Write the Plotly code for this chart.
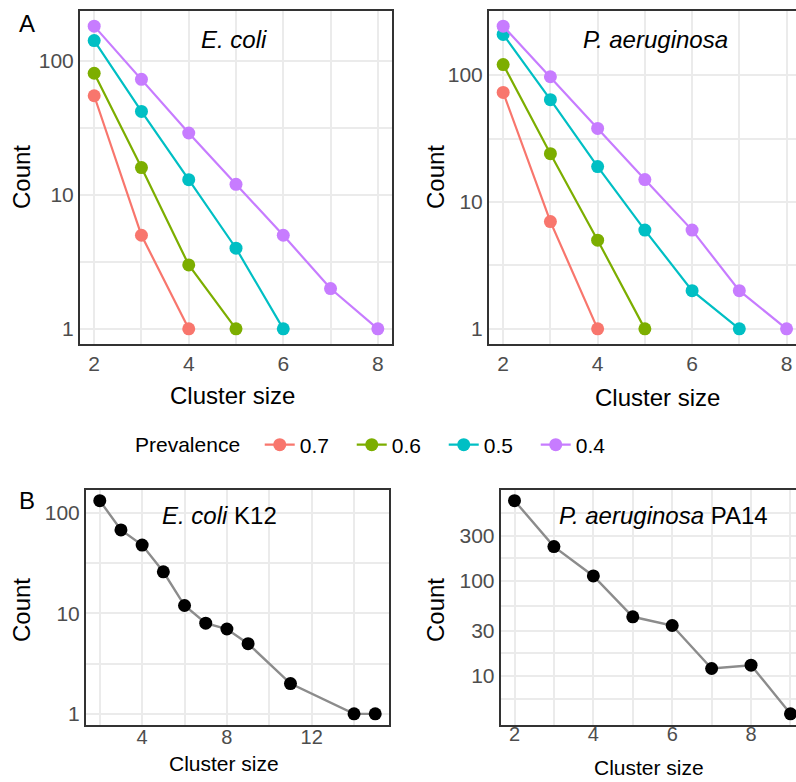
import math
import plotly.graph_objects as go

# ---------------- data ----------------
cluster_size_A = [2, 3, 4, 5, 6, 7, 8]
prevalence_levels = ["0.7", "0.6", "0.5", "0.4"]
ecoli_07 = [55, 5, 1]
ecoli_06 = [81, 16, 3, 1]
ecoli_05 = [142, 42, 13, 4, 1]
ecoli_04 = [182, 73, 29, 12, 5, 2, 1]
pa_07 = [73, 7, 1]
pa_06 = [121, 24, 5, 1]
pa_05 = [209, 64, 19, 6, 2, 1]
pa_04 = [243, 97, 38, 15, 6, 2, 1]

k12_size = [2, 3, 4, 5, 6, 7, 8, 9, 11, 14, 15]
k12_count = [133, 68, 48, 26, 12, 8, 7, 5, 2, 1, 1]
pa14_size = [2, 3, 4, 5, 6, 7, 8, 9]
pa14_count = [700, 230, 113, 42, 34, 12, 13, 4]

y_ticks_A = [1, 10, 100]
y_ticks_B2 = [10, 30, 100, 300]

# ---------------- styling ----------------
W, H = 796, 782
COLORS = ["#F8766D", "#7CAE00", "#00BFC4", "#C77CFF"]
FONT = "Liberation Sans, Arial, sans-serif"
GRID = "#EBEBEB"
FRAME = "#333333"
TICKC = "#4D4D4D"


def px(x):
    return x / W


def py(y):
    return 1 - y / H


def log_range(vals):
    lo, hi = math.log10(min(vals)), math.log10(max(vals))
    pad = 0.05 * (hi - lo)
    return [lo - pad, hi + pad]


def log_ticks(majors):
    lg = [math.log10(v) for v in majors]
    allv = [(l, str(majors[i])) for i, l in enumerate(lg)]
    # minor = midpoints (log space) between consecutive majors, plus one each side
    ext = [lg[0] - (lg[1] - lg[0])] + lg + [lg[-1] + (lg[-1] - lg[-2])]
    for a, b in zip(ext[:-1], ext[1:]):
        allv.append(((a + b) / 2, ""))
    allv.sort()
    return [10 ** l for l, _ in allv], [t for _, t in allv]


def lin_ticks(lo, hi, step_minor, majors):
    vals, text = [], []
    v = lo
    while v <= hi:
        vals.append(v)
        text.append(str(v) if v in majors else "")
        v += step_minor
    return vals, text


fig = go.Figure()

ecoli_series = [ecoli_07, ecoli_06, ecoli_05, ecoli_04]
pa_series = [pa_07, pa_06, pa_05, pa_04]

for i, (lab, ys) in enumerate(zip(prevalence_levels, ecoli_series)):
    fig.add_trace(go.Scatter(
        x=cluster_size_A[:len(ys)], y=ys, mode="lines+markers", name=lab,
        line=dict(color=COLORS[i], width=2.2),
        marker=dict(color=COLORS[i], size=13),
        legendgroup=lab, showlegend=True, xaxis="x", yaxis="y"))
for i, (lab, ys) in enumerate(zip(prevalence_levels, pa_series)):
    fig.add_trace(go.Scatter(
        x=cluster_size_A[:len(ys)], y=ys, mode="lines+markers", name=lab,
        line=dict(color=COLORS[i], width=2.2),
        marker=dict(color=COLORS[i], size=13),
        legendgroup=lab, showlegend=False, xaxis="x2", yaxis="y2"))

for xs, ys, xa, ya in [(k12_size, k12_count, "x3", "y3"), (pa14_size, pa14_count, "x4", "y4")]:
    fig.add_trace(go.Scatter(
        x=xs, y=ys, mode="lines+markers", showlegend=False,
        line=dict(color="#8C8C8C", width=2.4),
        marker=dict(color="black", size=13),
        xaxis=xa, yaxis=ya))
    fig.add_trace(go.Scatter(
        x=xs, y=ys, mode="markers", showlegend=False,
        marker=dict(color="rgba(0,0,0,0)", size=4, symbol="circle-open",
                    line=dict(color="#666666", width=0.8)),
        xaxis=xa, yaxis=ya))

common_axis = dict(showgrid=True, gridcolor=GRID, gridwidth=1.6, zeroline=False,
                   showline=True, linecolor=FRAME, linewidth=2, ticks="",
                   tickfont=dict(family=FONT, size=21, color=TICKC))
common_xB = dict(common_axis)
common_xB["tickfont"] = dict(family=FONT, size=20, color=TICKC)

xa_vals, xa_text = lin_ticks(2, 8, 1, [2, 4, 6, 8])
xb1_vals, xb1_text = lin_ticks(2, 14, 2, [4, 8, 12])
xb2_vals, xb2_text = lin_ticks(2, 9, 1, [2, 4, 6, 8])
ya_vals, ya_text = log_ticks(y_ticks_A)
yb2_vals, yb2_text = log_ticks(y_ticks_B2)

all_ecoli = [v for s in ecoli_series for v in s]
all_pa = [v for s in pa_series for v in s]

# panel domains (pixels)
A_top, A_bot = 11, 344
B_top, B_bot = 490, 724.5

fig.update_layout(
    width=W, height=H, margin=dict(l=0, r=0, t=0, b=0),
    plot_bgcolor="white", paper_bgcolor="white",
    font=dict(family=FONT, color="black"),
    xaxis=dict(domain=[px(80), px(392)], range=[1.7, 8.3], tickmode="array",
               tickvals=xa_vals, ticktext=xa_text, mirror=True, anchor="y", **common_axis),
    yaxis=dict(domain=[py(A_bot), py(A_top)], type="log", range=log_range(all_ecoli),
               tickmode="array", tickvals=ya_vals, ticktext=ya_text, mirror=True,
               anchor="x", **common_axis),
    xaxis2=dict(domain=[px(489), 1.0], range=[1.7, 8.2], tickmode="array",
                tickvals=xa_vals, ticktext=xa_text, mirror=True, anchor="y2", **common_axis),
    yaxis2=dict(domain=[py(A_bot), py(A_top)], type="log", range=log_range(all_pa),
                tickmode="array", tickvals=ya_vals, ticktext=ya_text, mirror=False,
                anchor="x2", **common_axis),
    xaxis3=dict(domain=[px(86), px(389)], range=[1.35, 15.65], tickmode="array",
                tickvals=xb1_vals, ticktext=xb1_text, mirror=True, anchor="y3",
                ticklabelstandoff=-7, **common_xB),
    yaxis3=dict(domain=[py(B_bot), py(B_top)], type="log", range=log_range(k12_count),
                tickmode="array", tickvals=ya_vals, ticktext=ya_text, mirror=True,
                anchor="x3", **common_axis),
    xaxis4=dict(domain=[px(500.7), 1.0], range=[1.65, 9.14], tickmode="array",
                tickvals=xb2_vals, ticktext=xb2_text, mirror=True, anchor="y4",
                ticklabelstandoff=-10, **common_xB),
    yaxis4=dict(domain=[py(B_bot), py(B_top)], type="log", range=log_range(pa14_count),
                tickmode="array", tickvals=yb2_vals, ticktext=yb2_text, mirror=False,
                anchor="x4", **common_axis),
    legend=dict(orientation="h", x=px(133), y=py(445), xanchor="left", yanchor="middle",
                title=dict(text="Prevalence\u00a0\u00a0",
                           font=dict(family=FONT, size=21, color="black")),
                font=dict(family=FONT, size=21, color="black"),
                bgcolor="rgba(0,0,0,0)", entrywidth=47, entrywidthmode="pixels",
                traceorder="normal"),
)


def ann(text, x, y, size, angle=0, color="black"):
    fig.add_annotation(text=text, x=px(x), y=py(y), xref="paper", yref="paper",
                       xanchor="center", yanchor="middle", showarrow=False,
                       textangle=angle, font=dict(family=FONT, size=size, color=color))


ann("A", 27, 23, 24)
ann("B", 27, 500, 24)
ann("<i>E. coli</i>", 234, 40, 24)
ann("<i>P. aeruginosa</i>", 655, 40, 24)
ann("<i>E. coli</i> K12", 219.5, 515, 24)
ann("<i>P. aeruginosa</i> PA14", 663, 515, 24)
ann("Count", 21, 177, 24, -90)
ann("Count", 435, 177, 24, -90)
ann("Count", 21, 610, 24, -90)
ann("Count", 435, 610, 24, -90)
ann("Cluster size", 232.5, 395, 24)
ann("Cluster size", 657.5, 397, 24)
ann("Cluster size", 224, 763, 21)
ann("Cluster size", 649, 767, 21)

fig.write_html("out.html")
